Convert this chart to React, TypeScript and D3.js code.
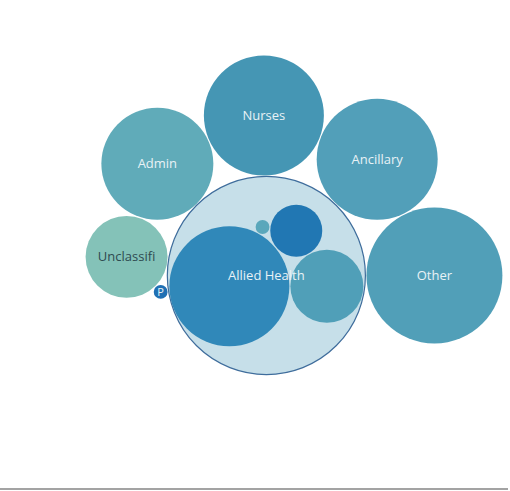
import { useEffect, useRef } from 'react'
import * as d3 from 'd3'

// top-level staff groups (Allied Health is opened up, its size comes from its roles)
const groups = ['Allied Health', 'Other', 'Ancillary', 'Nurses', 'Admin', 'Unclassified', 'Pharmacy']
const groupValues = [0, 1156, 915, 900, 784, 420, 12]
const groupColors = ['#c6dfe9', '#519fb8', '#529fb9', '#4596b4', '#60abb9', '#84c2b8', '#2070b4']

const alliedRoles = ['Physiotherapy', 'Radiography', 'Occupational Therapy', 'Dietetics']
const alliedValues = [900, 333, 169, 12]
const alliedColors = ['#3088b9', '#509fb8', '#2177b3', '#5aa7bb']

interface Bubble {
  name: string
  value: number
  color: string
  x: number
  y: number
  r: number
  children?: Bubble[]
}

const W = 510
const H = 491
const PAD = 1

// old (d3 v3) style front chain: each new circle is laid tangent to the first one and the last one placed
function place(a: Bubble, b: Bubble, c: Bubble) {
  let db = a.r + c.r
  const dx = b.x - a.x
  const dy = b.y - a.y
  if (db && (dx || dy)) {
    let da = b.r + c.r
    const dc = dx * dx + dy * dy
    da *= da
    db *= db
    const x = 0.5 + (db - da) / (2 * dc)
    const y = Math.sqrt(Math.max(0, 2 * da * (db + dc) - (db -= dc) * db - da * da)) / (2 * dc)
    c.x = a.x + x * dx + y * dy
    c.y = a.y + x * dy - y * dx
  } else {
    c.x = a.x + db
    c.y = a.y
  }
}

// lays out siblings round the origin and returns the radius that holds them
function packSiblings(nodes: Bubble[]): number {
  nodes.forEach(n => (n.r += PAD / 2))
  const a = nodes[0]
  a.x = -a.r
  a.y = 0
  if (nodes.length > 1) {
    let b = nodes[1]
    b.x = b.r
    b.y = 0
    for (let i = 2; i < nodes.length; i++) {
      place(a, b, nodes[i])
      b = nodes[i]
    }
  }
  nodes.forEach(n => (n.r -= PAD / 2))
  const cx = (d3.min(nodes, n => n.x - n.r)! + d3.max(nodes, n => n.x + n.r)!) / 2
  const cy = (d3.min(nodes, n => n.y - n.r)! + d3.max(nodes, n => n.y + n.r)!) / 2
  nodes.forEach(n => {
    n.x -= cx
    n.y -= cy
  })
  return d3.max(nodes, n => Math.hypot(n.x, n.y) + n.r)! + PAD / 2
}

const radius = d3.scaleSqrt().domain([0, 100]).range([0, 20])

export default function App() {
  const svgRef = useRef<SVGSVGElement>(null)

  useEffect(() => {
    if (!svgRef.current) return
    const svg = d3.select(svgRef.current)
    svg.selectAll('*').remove()

    const top: Bubble[] = groups.map((name, i) => {
      const b: Bubble = { name, value: groupValues[i], color: groupColors[i], x: 0, y: 0, r: radius(groupValues[i]) }
      if (name === 'Allied Health') {
        b.children = alliedRoles.map((role, j) => ({
          name: role, value: alliedValues[j], color: alliedColors[j], x: 0, y: 0, r: radius(alliedValues[j]),
        }))
        b.children.sort((p, q) => q.value - p.value)
        b.value = d3.sum(alliedValues)
        b.r = packSiblings(b.children)
      }
      return b
    })
    top.sort((p, q) => q.value - p.value)
    packSiblings(top)

    const x0 = d3.min(top, d => d.x - d.r)!
    const x1 = d3.max(top, d => d.x + d.r)!
    const y0 = d3.min(top, d => d.y - d.r)!
    const y1 = d3.max(top, d => d.y + d.r)!
    const ox = 294 - (x0 + x1) / 2
    const oy = 215 - (y0 + y1) / 2

    svg.append('rect')
      .attr('x', 0).attr('y', 488).attr('width', 508).attr('height', 2)
      .attr('fill', '#a3a3a3')

    const g = svg.append('g').attr('transform', `translate(${ox},${oy})`)

    g.selectAll('circle.group')
      .data(top)
      .join('circle')
      .attr('class', 'group')
      .attr('cx', d => d.x)
      .attr('cy', d => d.y)
      .attr('r', d => d.r)
      .attr('fill', d => d.color)
      .attr('stroke', d => (d.children ? '#3f6d9c' : 'none'))
      .attr('stroke-width', 1.2)

    top.filter(d => d.children).forEach(p => {
      g.append('g')
        .attr('transform', `translate(${p.x},${p.y})`)
        .selectAll('circle')
        .data(p.children!)
        .join('circle')
        .attr('cx', d => d.x)
        .attr('cy', d => d.y)
        .attr('r', d => d.r)
        .attr('fill', d => d.color)
    })

    g.selectAll('text')
      .data(top)
      .join('text')
      .attr('x', d => d.x)
      .attr('y', d => d.y)
      .attr('dy', '0.35em')
      .attr('text-anchor', 'middle')
      .attr('font-family', '"Open Sans", sans-serif')
      .attr('font-size', d => (d.r < 10 ? 11 : 13))
      .attr('fill', d => (!d.children && d3.hsl(d.color).l > 0.6 ? '#2e4a50' : '#e8f2f6'))
      .text(d => d.name.substring(0, d.r / 4))
  }, [])

  return (
    <svg
      ref={svgRef}
      width={W}
      height={H}
      style={{ position: 'absolute', left: 0, top: 0, background: '#fff' }}
    />
  )
}
